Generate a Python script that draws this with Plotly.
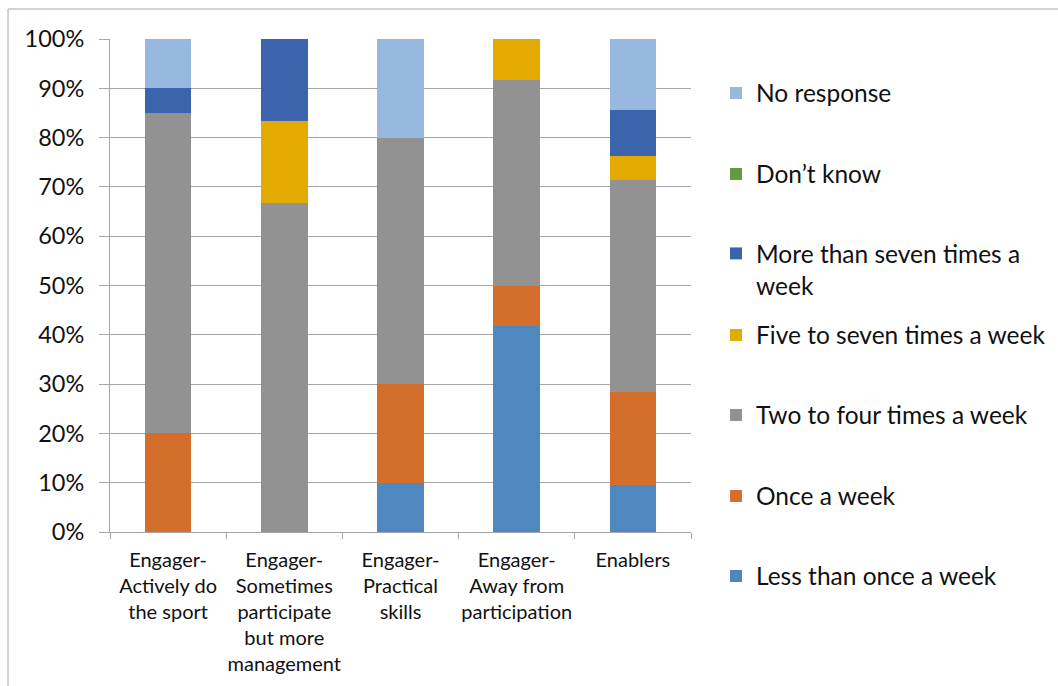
import plotly.graph_objects as go

# Respondent groups (x-axis categories)
categories = [
    "Engager-<br>Actively do<br>the sport",
    "Engager-<br>Sometimes<br>participate<br>but more<br>management",
    "Engager-<br>Practical<br>skills",
    "Engager-<br>Away from<br>participation",
    "Enablers",
]

# Share of respondents (%) per frequency band, bottom of stack first
less_than_once = [0.0, 0.0, 10.0, 41.7, 9.5]
once_a_week = [20.0, 0.0, 20.0, 8.3, 19.0]
two_to_four = [65.0, 66.7, 50.0, 41.7, 42.9]
five_to_seven = [0.0, 16.7, 0.0, 8.3, 4.8]
more_than_seven = [5.0, 16.7, 0.0, 0.0, 9.5]
dont_know = [0.0, 0.0, 0.0, 0.0, 0.0]
no_response = [10.0, 0.0, 20.0, 0.0, 14.3]

series = [
    ("Less than once a week", less_than_once, "#4F88BF", "legend7"),
    ("Once a week", once_a_week, "#D46E2B", "legend6"),
    ("Two to four times a week", two_to_four, "#929292", "legend5"),
    ("Five to seven times a week", five_to_seven, "#E3AA00", "legend4"),
    ("More than seven times a<br>week", more_than_seven, "#3B64AD", "legend3"),
    ("Don\u2019t know", dont_know, "#629C3E", "legend2"),
    ("No response", no_response, "#97B9E0", "legend"),
]

W, H = 1058, 686
FONT = "Lato"
TXT = "#111111"
GRID = "#A6A6A6"

fig = go.Figure()
for name, vals, color, leg in series:
    fig.add_trace(go.Bar(
        x=categories, y=vals, name=name,
        marker=dict(color=color, line=dict(width=0)),
        legend=leg,
    ))

# One legend box per series so each entry sits in its own slot
legend_rows = {
    "legend": (93, "middle"),
    "legend2": (174, "middle"),
    "legend3": (231, "top"),
    "legend4": (335, "middle"),
    "legend5": (415, "middle"),
    "legend6": (496, "middle"),
    "legend7": (576, "middle"),
}
legend_x = 716
legend_layouts = {}
for key, (py, anchor) in legend_rows.items():
    legend_layouts[key] = dict(
        xref="container", yref="container",
        x=legend_x / W, y=1 - py / H,
        xanchor="left", yanchor=anchor,
        valign="top",
        font=dict(family=FONT, size=24.5, color=TXT),
        bgcolor="rgba(0,0,0,0)",
        borderwidth=0,
    )

fig.update_layout(
    width=W, height=H,
    barmode="stack",
    bargap=0.6,
    paper_bgcolor="white",
    plot_bgcolor="white",
    margin=dict(l=110, r=W - 691, t=39, b=H - 532, autoexpand=False),
    font=dict(family=FONT, color=TXT),
    showlegend=True,
    **legend_layouts,
)

fig.update_xaxes(
    showline=True, linecolor=GRID, linewidth=1,
    ticks="outside", ticklen=6, tickcolor=GRID, tickson="boundaries",
    tickangle=0, automargin=False, ticklabelstandoff=10,
    tickfont=dict(family=FONT, size=20, color=TXT),
    showgrid=False,
)
fig.update_yaxes(
    range=[0, 100], dtick=10, ticksuffix="%",
    showline=True, linecolor=GRID, linewidth=1,
    ticks="outside", ticklen=10, tickcolor=GRID,
    ticklabelstandoff=10, automargin=False,
    tickfont=dict(family=FONT, size=23.5, color=TXT),
    showgrid=True, gridcolor=GRID, gridwidth=1,
    zeroline=False,
)

# Chart frame
fig.add_shape(
    type="rect", xref="paper", yref="paper",
    x0=(8 - 110) / 581, x1=2.0,
    y0=-0.5, y1=(532 - 9) / 493,
    line=dict(color="#A8A8A8", width=1),
    fillcolor="rgba(0,0,0,0)",
    layer="below",
)

fig.write_html("out.html")
